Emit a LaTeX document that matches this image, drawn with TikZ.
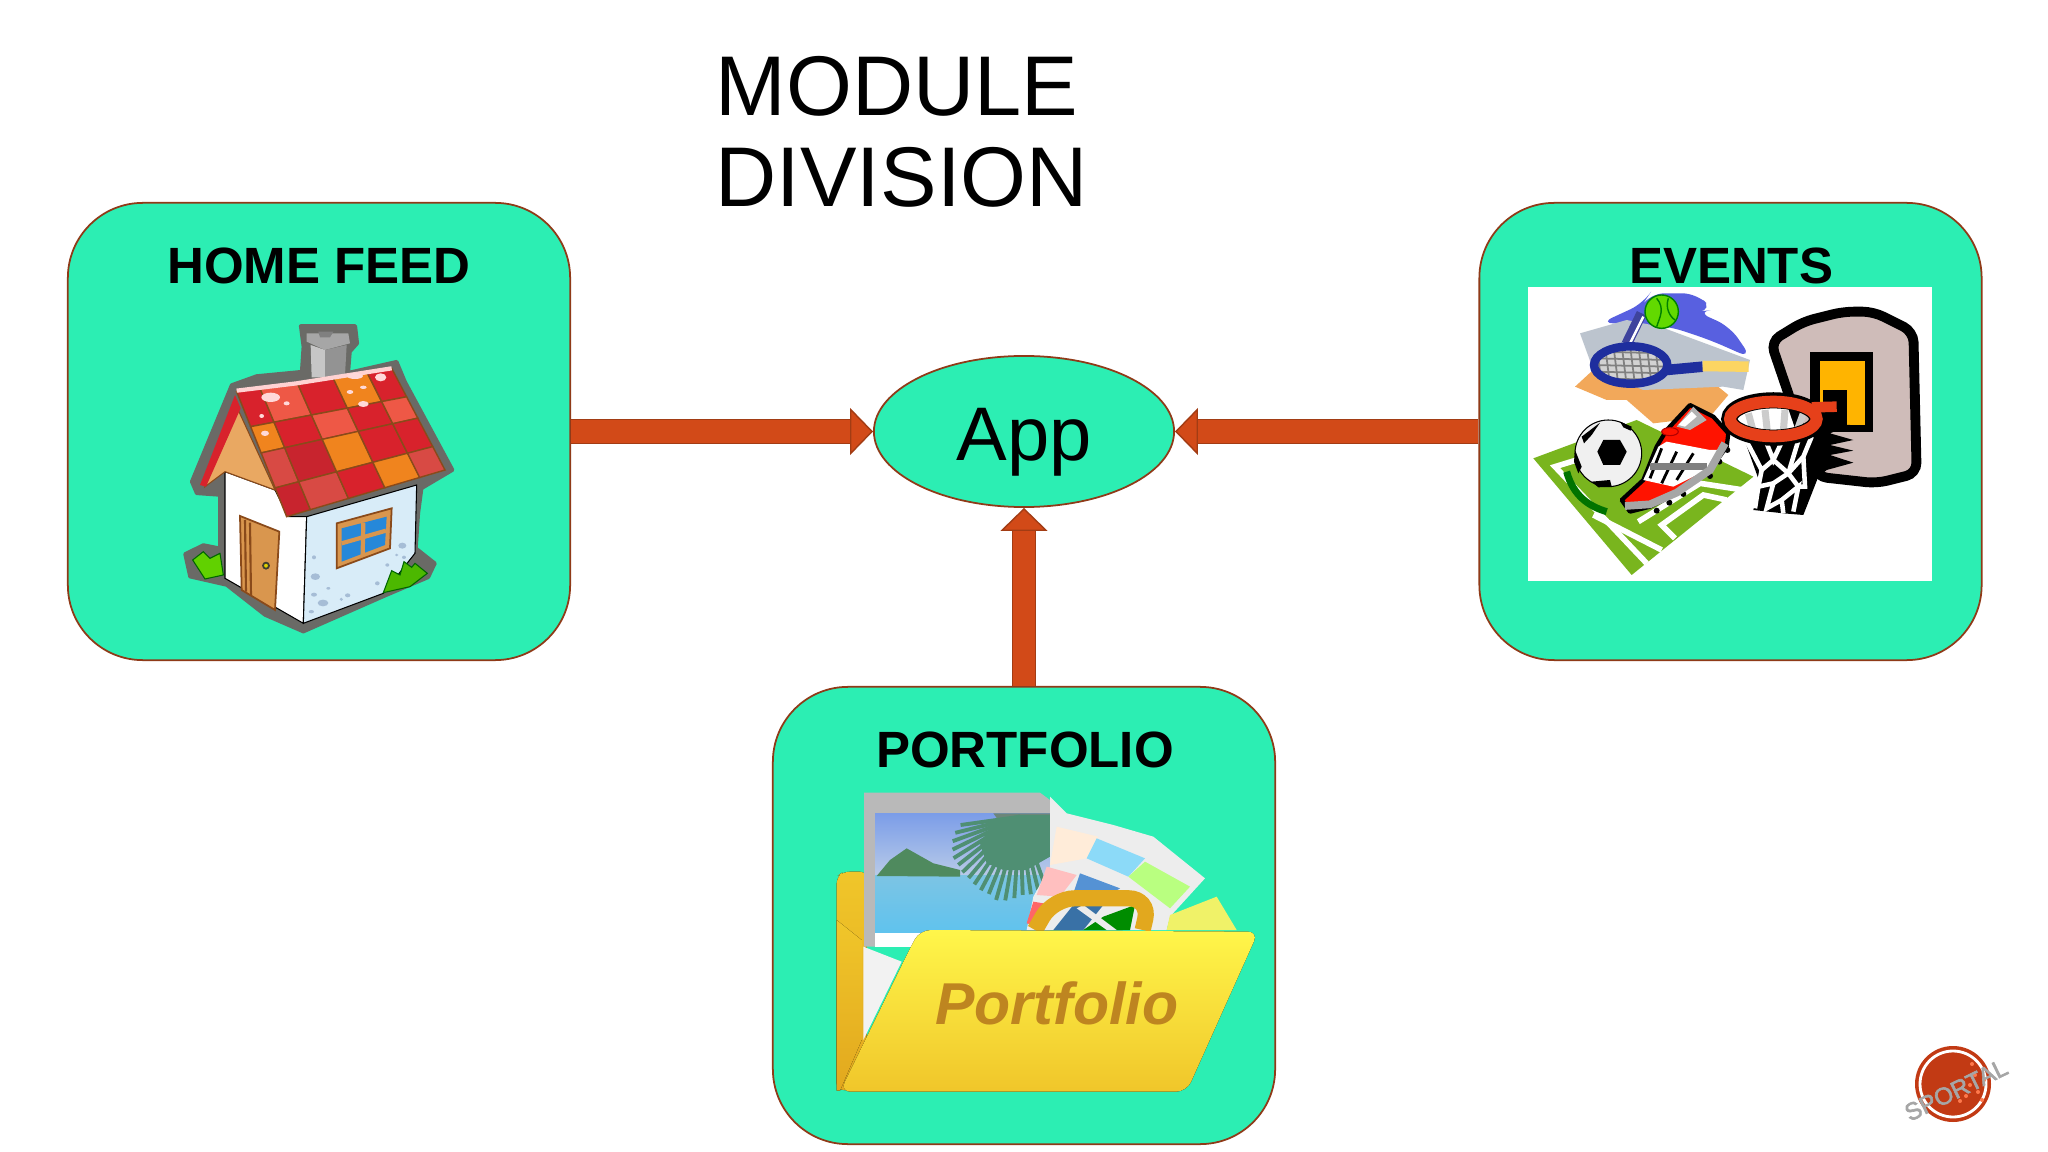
\documentclass[tikz,border=0pt]{standalone}
\usepackage{fontspec}
\usepackage{xcolor}
\usetikzlibrary{shapes.geometric,arrows.meta,calc}
\setmainfont{Liberation Sans}
\newfontfamily\stampfont[FakeBold=2.5]{Liberation Sans}
\definecolor{panelfill}{HTML}{2CEEB3}
\definecolor{paneledge}{HTML}{8F3A18}
\definecolor{flowfill}{HTML}{D24A18}
\definecolor{flowedge}{HTML}{A23C14}
\definecolor{tilered}{HTML}{D8222C}
\definecolor{tiledeep}{HTML}{C8242E}
\definecolor{tilesalmon}{HTML}{EE5846}
\definecolor{tilerose}{HTML}{D84A44}
\definecolor{tileorange}{HTML}{F0841E}
\definecolor{haze}{HTML}{6A6A66}
\definecolor{gabletan}{HTML}{E9A862}
\definecolor{doortan}{HTML}{D9964E}
\definecolor{walldark}{HTML}{8A4A1A}
\definecolor{wallblue}{HTML}{D8ECF8}
\definecolor{spotblue}{HTML}{A6BDD6}
\definecolor{pitchgreen}{HTML}{79B51E}
\definecolor{boardgrey}{HTML}{CFBCB9}
\definecolor{hoopred}{HTML}{E6401A}
\definecolor{hoopgold}{HTML}{FFB400}
\definecolor{swooshblue}{HTML}{5860E0}
\definecolor{standgrey}{HTML}{BCC4CE}
\definecolor{clothorange}{HTML}{F2A85A}
\definecolor{racketblue}{HTML}{1E2E9E}
\definecolor{skytop}{HTML}{7B9DE8}
\definecolor{skylow}{HTML}{B8CAE8}
\definecolor{seatop}{HTML}{7CC4E4}
\definecolor{sealow}{HTML}{5FC3EE}
\definecolor{palmgreen}{HTML}{4F8F73}
\definecolor{islandgreen}{HTML}{4F8A5E}
\definecolor{folderyellow}{HTML}{FFF64A}
\definecolor{foldergold}{HTML}{F0C62A}
\definecolor{foldersoft}{HTML}{E2A81E}
\definecolor{folderbrown}{HTML}{BE8520}
\definecolor{stampred}{HTML}{C23A14}
\tikzset{
    panel/.style={draw=paneledge,fill=panelfill,line width=0.5pt,rounded corners=0.75cm,minimum width=5.02cm,minimum height=4.57cm},
    panelhead/.style={font=\bfseries\fontsize{14.5}{17}\selectfont,anchor=base},
    hub/.style={ellipse,draw=paneledge,fill=panelfill,line width=0.5pt,minimum width=3cm,minimum height=1.51cm,inner sep=0pt},
    flow/.style={draw=flowedge,line width=0.4pt,double=flowfill,double distance=0.22cm,-{Triangle[length=0.23cm,width=0.47cm,fill=flowfill]}},
    tile/.style={draw=walldark,line width=0.4pt},
    clip art/.style={shift={(#1)},scale=1/3}
}
\newcommand{\roofpt}[2]{($($(rtl)!#1!(rtr)$)!#2!($(rbl)!#1!(rbr)$)$)}
\begin{document}
\begin{tikzpicture}[x=0.01cm,y=-0.01cm]
    \useasboundingbox (0,0) rectangle (2048,1152);
    \fill[white] (0,0) rectangle (2048,1152);

    \node[align=left,anchor=west,inner sep=0pt,font=\fontsize{24.1}{26}\selectfont] (title) at (715,132) {MODULE\\DIVISION};
    \node[panel] (home) at (319,431.5) {};
    \node[panel] (events) at (1730.5,431.5) {};
    \node[panel] (portfolio) at (1024,915.5) {};
    \node[hub,font=\fontsize{21.6}{24}\selectfont,text height=0.6cm,text depth=0.016cm] (app) at (1024,431.5) {App};
    \draw[flow] (home) -- (app);
    \draw[flow] (events) -- (app);
    \draw[flow] (portfolio) -- (app);
    \node[panelhead] (homehead) at (319,284) {HOME FEED};
    \node[panelhead] (eventshead) at (1731,284) {EVENTS};
    \node[panelhead] (portfoliohead) at (1025,767) {PORTFOLIO};

    \begin{scope}[clip art={170,300}]
        \fill[haze,draw=haze,line width=1pt,line join=round] (392,78) -- (556,78) -- (562,130) -- (540,155) -- (535,218) -- (680,185) -- (705,245) -- (848,510) -- (755,565) -- (745,640) -- (738,745) -- (795,790) -- (775,832) -- (650,885) -- (400,995) -- (285,945) -- (170,855) -- (60,830) -- (45,762) -- (100,735) -- (150,745) -- (150,585) -- (80,580) -- (65,545) -- (185,255) -- (260,228) -- (395,215) -- (400,140) -- cycle;
        \fill[gray!70] (410,100) -- (535,100) -- (540,130) -- (465,150) -- (410,125) -- cycle;
        \fill[gray!45] (422,135) -- (465,150) -- (465,232) -- (425,232) -- cycle;
        \fill[gray!85] (465,150) -- (530,135) -- (525,225) -- (465,232) -- cycle;
        \fill[gray] (445,95) -- (490,95) -- (480,112) -- (450,112) -- cycle;
        \filldraw[fill=white,draw=black,line width=0.3pt] (165,515) -- (315,570) -- (355,650) -- (410,650) -- (400,970) -- (165,835) -- cycle;
        \filldraw[fill=wallblue,draw=black,line width=0.3pt] (410,650) -- (740,555) -- (735,760) -- (640,880) -- (400,970) -- cycle;
        \filldraw[fill=gabletan,draw=walldark,line width=0.3pt] (200,320) -- (105,560) -- (165,515) -- (315,570) -- cycle;
        \fill[tilered] (195,285) -- (90,555) -- (108,560) -- (212,325) -- cycle;
        \coordinate (rtl) at (200,275);
        \coordinate (rtr) at (665,205);
        \coordinate (rbl) at (350,650);
        \coordinate (rbr) at (825,510);
        \foreach \va/\vb/\ca/\cb/\cc/\cd/\ce in {0/.28/tilered/tilesalmon/tilered/tileorange/tilered,.28/.49/tileorange/tilered/tilesalmon/tilered/tilesalmon,.49/.77/tilerose/tiledeep/tileorange/tilered/tilered,.77/1/tiledeep/tilerose/tilered/tileorange/tilerose}{
            \foreach \ua/\ub/\cn in {0/.15/\ca,.15/.39/\cb,.39/.62/\cc,.62/.84/\cd,.84/1/\ce}{
                \filldraw[tile,fill=\cn] \roofpt{\ua}{\va} -- \roofpt{\ub}{\va} -- \roofpt{\ub}{\vb} -- \roofpt{\ua}{\vb} -- cycle;
            }
        }
        \draw[pink!70,line width=1.2pt] (200,272) -- (380,250) -- (665,205);
        \foreach \px/\py/\rx/\ry in {302/292/28/14,350/310/9/6,275/348/7/6,285/400/12/8,580/312/16/9,632/232/17/12,555/228/24/9,540/276/10/6,580/262/10/5}{
            \fill[pink!60] (\px,\py) ellipse[x radius=\rx,y radius=\ry];
        }
        \filldraw[fill=doortan,draw=walldark,line width=0.5pt] (210,648) -- (328,695) -- (315,930) -- (215,870) -- cycle;
        \draw[walldark,line width=0.6pt] (225,660) -- (228,875) (240,668) -- (243,885);
        \filldraw[fill=yellow!70!olive,draw=black!70!olive,line width=0.5pt] (288,797) circle[radius=9];
        \filldraw[fill=doortan,draw=walldark,line width=0.5pt] (500,670) -- (665,625) -- (660,745) -- (500,805) -- cycle;
        \fill[blue!45!cyan!70!gray] (515,685) -- (650,650) -- (645,735) -- (515,785) -- cycle;
        \draw[doortan,line width=1.2pt] (580,668) -- (578,765) (515,730) -- (648,692);
        \foreach \px/\py/\rx/\ry in {697/737/12/9,432/772/6/6,436/830/14/10,459/909/16/10,432/884/9/6,533/886/8/6,622/850/7/6,424/935/8/5,680/765/5/4,702/772/6/5,652/795/6/5,514/898/5/5,475/865/6/4}{
            \fill[spotblue] (\px,\py) ellipse[x radius=\rx,y radius=\ry];
        }
        \filldraw[fill=green!55!olive!80!yellow,draw=green!40!black,line width=0.3pt] (68,780) -- (100,755) -- (120,775) -- (150,760) -- (160,825) -- (105,837) -- cycle;
        \filldraw[fill=green!60!black!70!yellow,draw=green!40!black,line width=0.3pt] (640,878) -- (665,812) -- (690,825) -- (702,785) -- (725,802) -- (735,790) -- (772,820) -- (720,860) -- cycle;
    \end{scope}

    \fill[white] (1528,287) rectangle (1932,581);
    \begin{scope}[clip art={1510,270}]
        \fill[pitchgreen] (70,565) -- (380,450) -- (730,620) -- (365,915) -- cycle;
        \draw[white,line width=1.6pt] (200,570) -- (135,590) -- (410,880);
        \draw[white,line width=1.6pt] (250,735) -- (455,840);
        \draw[white,line width=1.6pt] (385,755) -- (570,640) -- (700,660);
        \draw[white,line width=1.6pt] (495,805) -- (455,765) -- (580,675) -- (650,690);
        \draw[green!45!black,line width=2pt] (170,605) .. controls (190,680) and (240,710) .. (290,725);
        \fill[clothorange] (195,350) -- (260,290) -- (600,330) -- (655,375) -- (600,440) -- (430,460) -- (350,390) -- (290,390) -- cycle;
        \fill[swooshblue,rounded corners=4pt] (270,160) -- (400,100) -- (420,70) -- (560,70) -- (610,120) -- (560,125) -- (660,170) -- (725,265) -- (600,210) -- (480,170) -- (350,160) -- cycle;
        \fill[standgrey] (210,190) -- (350,150) -- (450,170) -- (720,270) -- (700,360) -- (640,350) -- (400,360) -- (250,300) -- cycle;
        \draw[swooshblue!70!black,line width=3pt] (350,222) -- (395,130);
        \draw[white,line width=0.7pt] (360,220) -- (400,140);
        \filldraw[fill=green!55!yellow!85!black,draw=black!50!green,line width=0.4pt] (455,125) circle[radius=50];
        \draw[black!50!green,line width=0.4pt] (440,85) .. controls (465,115) and (450,140) .. (440,170) (475,85) .. controls (465,115) and (480,140) .. (495,150);
        \fill[gray!35] (362,285) ellipse[x radius=110,y radius=56];
        \begin{scope}
            \clip (362,285) ellipse[x radius=110,y radius=56];
            \foreach \gx in {260,285,...,470}{\draw[gray,line width=0.5pt] (\gx,225) -- (\gx+15,345);}
            \foreach \gy in {245,265,...,330}{\draw[gray,line width=0.5pt] (250,\gy) -- (475,\gy+5);}
        \end{scope}
        \draw[racketblue,line width=2.4pt] (362,285) ellipse[x radius=110,y radius=56];
        \draw[racketblue,line width=3pt] (470,300) -- (578,290);
        \draw[yellow!50!orange!60!white,line width=3pt] (578,288) -- (716,290);
        \filldraw[fill=gray!12,draw=black,line width=0.3pt] (295,550) circle[radius=100];
        \fill[black] (280,510) -- (330,510) -- (350,545) -- (330,585) -- (280,585) -- (262,545) -- cycle;
        \fill[black] (215,500) -- (270,458) -- (245,495) -- (222,520) -- cycle;
        \fill[black] (195,540) -- (215,590) -- (205,610) -- (192,575) -- cycle;
        \fill[black] (245,635) -- (300,630) -- (305,650) -- (265,652) -- cycle;
        \fill[black] (330,455) -- (365,470) -- (362,482) -- (340,472) -- cycle;
        \foreach \sx/\sy in {440/722,478/698,520/672,600/618,628/575,652/540}{
            \fill[black] (\sx,\sy) circle[radius=9];
        }
        \filldraw[fill=red!85!orange,draw=black,line width=1.2pt,line join=round] (335,690) -- (400,630) -- (440,530) -- (470,480) -- (540,405) -- (610,440) -- (655,490) -- (650,530) -- (600,600) -- (500,670) -- (420,710) -- (360,725) -- cycle;
        \fill[white] (445,530) -- (470,515) -- (600,540) -- (640,540) -- (600,595) -- (490,650) -- (400,630) -- cycle;
        \draw[black,line width=0.8pt] (455,535) -- (420,625) (500,545) -- (455,640) (550,550) -- (500,630);
        \draw[gray,line width=2pt] (420,590) -- (590,590);
        \draw[gray!70,line width=2.2pt] (345,708) -- (420,703) -- (500,668) -- (600,600) -- (645,520);
        \fill[gray!60] (500,470) -- (550,410) -- (590,450) -- (540,480) -- cycle;
        \fill[white] (505,465) -- (545,425) -- (560,440) -- (525,470) -- cycle;
        \filldraw[fill=red!85!orange,draw=red!70!black,line width=0.3pt] (480,485) ellipse[x radius=25,y radius=12];
        \filldraw[fill=boardgrey,draw=black,line width=2.8pt,rounded corners=3pt] (782,215) -- (880,155) -- (1000,125) -- (1090,125) -- (1210,185) -- (1220,610) -- (1100,640) -- (920,620) -- cycle;
        \fill[black] (900,245) rectangle (1090,485);
        \fill[hoopgold] (930,272) rectangle (1065,465);
        \fill[black] (940,360) rectangle (1012,465);
        \fill[black] (905,465) -- (1020,465) -- (960,490) -- (1030,510) -- (960,525) -- (1030,542) -- (960,555) -- (1030,578) -- (950,600) -- (920,625) -- (905,600) -- cycle;
        \fill[black] (700,500) -- (915,495) -- (925,620) -- (880,735) -- (820,730) -- (730,720) -- (750,640) -- cycle;
        \draw[white,line width=1.3pt] (705,505) -- (755,600) -- (790,570) -- (835,610) -- (880,560) -- (905,500);
        \draw[white,line width=1.3pt] (760,495) -- (790,570) -- (825,495) (835,610) -- (870,495);
        \draw[white,line width=1.3pt] (755,600) -- (745,650) -- (790,640) -- (835,610) -- (865,650) -- (885,650) -- (880,560);
        \draw[white,line width=1.3pt] (745,650) -- (735,715) (790,640) -- (770,715) -- (815,690) -- (865,650) -- (850,725) (815,690) -- (820,730);
        \draw[gray!40,line width=2pt] (715,430) -- (730,485) (765,420) -- (772,485) (825,420) -- (820,485) (880,430) -- (860,485);
        \draw[black,line width=4.6pt] (790,447) ellipse[x radius=132,y radius=56];
        \draw[hoopred,line width=3.4pt] (790,447) ellipse[x radius=130,y radius=52];
        \draw[hoopred,line width=3pt] (905,412) -- (980,410);
    \end{scope}

    \begin{scope}[clip art={820,780}]
        \fill[top color=foldergold,bottom color=foldersoft,rounded corners=2pt] (50,930) -- (50,290) -- (70,275) -- (140,275) -- (140,930) -- cycle;
        \fill[gray!55] (132,38) -- (660,38) -- (690,60) -- (690,500) -- (132,500) -- cycle;
        \fill[top color=skytop,bottom color=skylow] (165,100) rectangle (690,285);
        \fill[top color=seatop,bottom color=sealow] (165,285) rectangle (690,460);
        \fill[white] (165,460) rectangle (690,500);
        \fill[islandgreen] (170,288) -- (210,240) -- (260,205) -- (340,250) -- (420,270) -- (420,290) -- cycle;
        \begin{scope}
            \clip (165,100) rectangle (690,460);
            \fill[gray!60!palmgreen] (520,100) -- (690,100) -- (690,220) -- (600,210) -- cycle;
            \fill[palmgreen] (600,105) -- (520,130) -- (480,190) -- (500,250) -- (550,270) -- (620,270) -- (690,230) -- (690,105) -- cycle;
            \foreach \a/\len in {70/210,76/225,82/235,88/235,94/245,100/255,106/260,112/250,118/250,124/245,130/240,136/240,142/235,148/235,154/225,160/215,166/200,172/180}{
                \draw[palmgreen,line width=1.1pt] (600,110) -- ++(\a:\len);
            }
        \end{scope}
        \fill[gray!14] (690,50) -- (740,100) -- (880,135) -- (1000,170) -- (1155,295) -- (1050,410) -- (1040,450) -- (620,450) -- (640,350) -- (690,260) -- cycle;
        \fill[orange!15!white] (710,140) -- (835,170) -- (800,235) -- (690,255) -- cycle;
        \fill[cyan!45!white] (830,175) -- (975,235) -- (925,290) -- (800,235) -- cycle;
        \fill[lime!60!green!50!white] (975,245) -- (1110,320) -- (1050,385) -- (925,290) -- cycle;
        \fill[red!25!white] (680,260) -- (770,285) -- (720,350) -- (650,345) -- cycle;
        \fill[red!60!white] (640,365) -- (670,370) -- (640,435) -- (620,430) -- cycle;
        \fill[cyan!55!blue!70!white] (780,280) -- (900,325) -- (860,350) -- (760,340) -- cycle;
        \fill[cyan!60!blue!75!black] (700,450) -- (760,375) -- (850,375) -- (790,450) -- cycle;
        \fill[green!55!black] (790,450) -- (850,410) -- (945,375) -- (930,450) -- cycle;
        \fill[white!85!gray] (790,375) -- (890,450) -- (860,450) -- (770,385) -- cycle;
        \fill[yellow!60!lime!60!white] (1050,405) -- (1190,350) -- (1250,450) -- (1040,450) -- cycle;
        \draw[foldersoft,line width=4.6pt,rounded corners=6pt] (645,450) -- (700,355) -- (990,355) -- (968,450);
        \fill[top color=foldergold,bottom color=foldersoft] (50,420) -- (125,480) -- (125,780) -- (60,932) -- (50,932) -- cycle;
        \fill[gray!10] (130,500) -- (245,545) -- (130,780) -- cycle;
        \fill[top color=folderyellow,bottom color=foldergold,rounded corners=3pt] (270,505) -- (300,450) -- (1315,455) -- (1100,935) -- (60,935) -- cycle;
        \node[font=\bfseries\itshape\fontsize{16.8}{20}\selectfont,text=folderbrown] (foldertext) at (710,670) {Portfolio};
    \end{scope}

    \fill[stampred] (1953,1084) circle[radius=38];
    \draw[white,line width=0.8pt] (1953,1084) circle[radius=33];
    \foreach \dx/\dy in {1970/1085,1975/1075,1966/1096,1978/1092,1960/1101,1984/1080,1972/1064,1982/1100}{
        \fill[orange!50!red!70!white] (\dx,\dy) circle[radius=2];
    }
    \node[rotate=26,font=\stampfont\fontsize{6.9}{8}\selectfont] (stamp) at (1956,1090) {\color{gray!70}SPORTAL};
\end{tikzpicture}
\end{document}
